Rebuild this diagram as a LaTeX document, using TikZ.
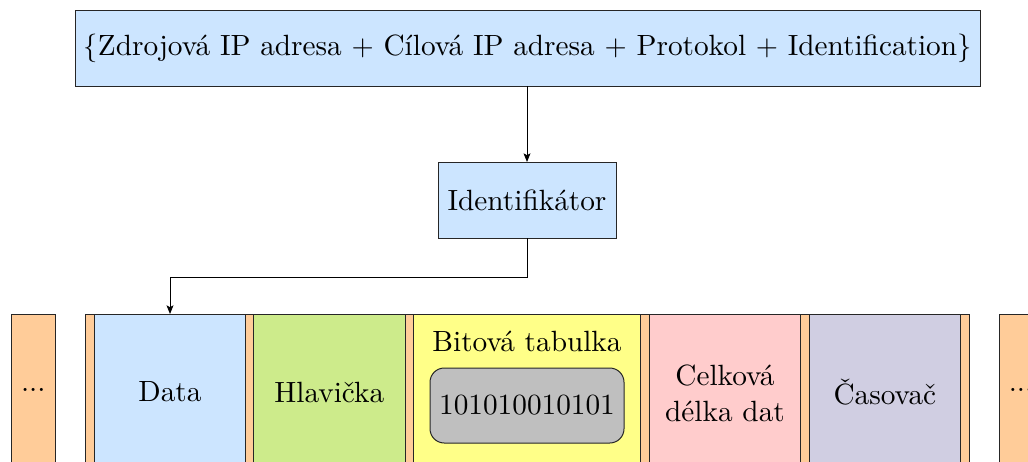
\documentclass[tikz,border=0pt]{standalone}
\usetikzlibrary{arrows.meta}
\newlength\pxu
\setlength\pxu{0.35pt}
\definecolor{cblue}{RGB}{204,229,255}
\definecolor{cgreen}{RGB}{205,235,139}
\definecolor{cyellow}{RGB}{255,255,136}
\definecolor{cpink}{RGB}{255,204,204}
\definecolor{cpurple}{RGB}{208,206,226}
\definecolor{cgrey}{RGB}{191,191,191}
\definecolor{corange}{RGB}{255,204,153}
\tikzset{
  txt/.style={font=\fontsize{10.25}{12.5}\selectfont, align=center},
  box/.style={draw=black!85, line width=0.35pt, inner sep=0pt, outer sep=0pt, txt},
  arr/.style={-{Stealth[length=3pt,width=2.4pt,inset=0.6pt]}, line width=0.35pt}
}
\begin{document}
\begin{tikzpicture}[x=1\pxu, y=-1\pxu]
\useasboundingbox (0,0) rectangle (1028,461);
\clip (0,0) rectangle (1028,461);
% top
\node[box, fill=cblue, minimum width=905\pxu, minimum height=76\pxu] (top) at (527.5,48)
  {$\{$Zdrojová IP adresa $+$ Cílová IP adresa $+$ Protokol $+$ Identification$\}$};
\node[box, fill=cblue, minimum width=178\pxu, minimum height=76\pxu] (ident) at (527,200) {Identifikátor};
% packet frame
\node[box, fill=corange, minimum width=884\pxu, minimum height=162\pxu] (frame) at (527,395) {};
\node[box, fill=corange, minimum width=44\pxu, minimum height=162\pxu] (lbox) at (33.3,395) {};
\node[txt, inner sep=0pt] (ldots) at (33.3,390) {...};
\node[box, fill=corange, minimum width=44\pxu, minimum height=162\pxu] (rbox) at (1021,395) {};
\node[txt, inner sep=0pt] (rdots) at (1021,390) {...};
% fields
\node[box, fill=cblue, minimum width=151\pxu, minimum height=162\pxu] (data) at (170,395) {};
\node[txt] (datat) at (170,392) {Data};
\node[box, fill=cgreen, minimum width=152\pxu, minimum height=162\pxu] (hlav) at (329.3,395) {};
\node[txt] (hlavt) at (329.3,392) {Hlavička};
\node[box, fill=cyellow, minimum width=227.5\pxu, minimum height=162\pxu] (bit) at (527,395) {};
\node[txt] (bitt) at (527,341) {Bitová tabulka};
\node[box, fill=cgrey, rounded corners=5pt, minimum width=194\pxu, minimum height=75\pxu] (bits) at (527,405.5) {101010010101};
\node[box, fill=cpink, minimum width=151.5\pxu, minimum height=162\pxu] (celk) at (725,395) {};
\node[txt] (celkt) at (725,393) {Celková\\délka dat};
\node[box, fill=cpurple, minimum width=151.5\pxu, minimum height=162\pxu] (cas) at (884.8,395) {};
\node[txt] (cast) at (884.8,392) {Časovač};
% connectors
\draw[arr] (top.south -| ident.north) -- (ident.north);
\draw[arr] (ident.south) -- ++(0,39) -| (data.north);
\end{tikzpicture}
\end{document}
